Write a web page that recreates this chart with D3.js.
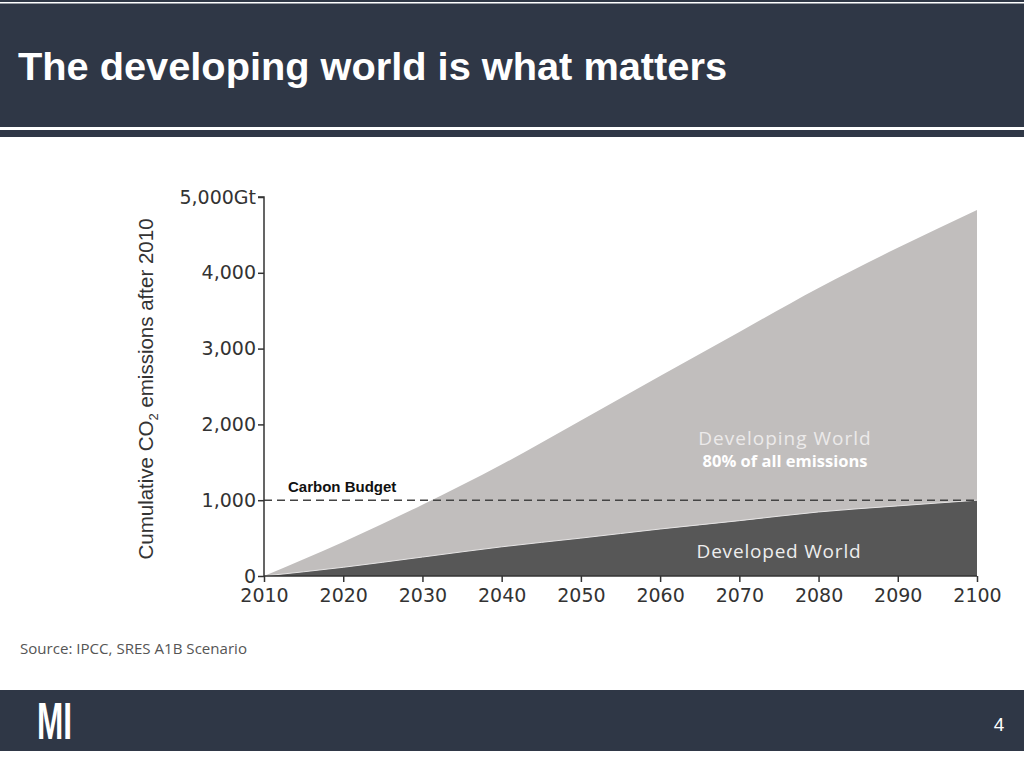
<!DOCTYPE html>
<html><head><meta charset="utf-8">
<script src="https://cdn.jsdelivr.net/npm/d3@7"></script>
<style>body{margin:0;background:#fff}svg{display:block}</style>
</head><body>
<script>
const years = [2010, 2020, 2030, 2040, 2050, 2060, 2070, 2080, 2090, 2100];
const developed = [0, 115, 250, 385, 500, 620, 730, 845, 925, 1000];
const total = [0, 450, 940, 1470, 2050, 2640, 3220, 3800, 4330, 4830];
const yTicks = [0, 1000, 2000, 3000, 4000, 5000];
const yTickLabels = ["0", "1,000", "2,000", "3,000", "4,000", "5,000Gt"];
const carbonBudget = 1000;

const W = 1024, H = 768;
const navy = "#2f3746";
const svg = d3.select("body").append("svg").attr("width", W).attr("height", H);

// header
svg.append("rect").attr("x",0).attr("y",0).attr("width",W).attr("height",137).attr("fill",navy);
svg.append("rect").attr("x",0).attr("y",2).attr("width",W).attr("height",1.5).attr("fill","#fff");
svg.append("rect").attr("x",0).attr("y",127).attr("width",W).attr("height",3).attr("fill","#fff");
svg.append("text").attr("x",18).attr("y",80)
  .attr("font-family","Liberation Sans, Arial, sans-serif").attr("font-weight","bold")
  .attr("font-size",39).attr("fill","#fff")
  .attr("textLength",709).attr("lengthAdjust","spacingAndGlyphs")
  .text("The developing world is what matters");

// footer
svg.append("rect").attr("x",0).attr("y",690).attr("width",W).attr("height",61).attr("fill",navy);
svg.append("text").attr("x",37).attr("y",739)
  .attr("font-family","Liberation Sans Narrow, Liberation Sans, Arial, sans-serif").attr("font-weight","bold")
  .attr("font-size",51).attr("fill","#fff")
  .attr("textLength",35).attr("lengthAdjust","spacingAndGlyphs").text("MI");
svg.append("text").attr("x",999).attr("y",731).attr("text-anchor","middle")
  .attr("font-family","Liberation Sans, Arial, sans-serif").attr("font-size",19).attr("fill","#fff").text("4");

// source
svg.append("text").attr("x",20).attr("y",654)
  .attr("font-family","Open Sans, sans-serif").attr("font-size",15).attr("fill","#555")
  .attr("textLength",227).attr("lengthAdjust","spacingAndGlyphs")
  .text("Source: IPCC, SRES A1B Scenario");

// chart
const x = d3.scaleLinear().domain([2010, 2100]).range([264, 977]);
const y = d3.scaleLinear().domain([0, 5000]).range([576, 197]);

const data = years.map((yr, i) => ({yr, dev: developed[i], tot: total[i]}));
const curve = d3.curveMonotoneX;

svg.append("path").datum(data).attr("fill","#c1bebd")
  .attr("d", d3.area().curve(curve).x(d=>x(d.yr)).y0(d=>y(d.dev)).y1(d=>y(d.tot)));
svg.append("path").datum(data).attr("fill","#575757")
  .attr("d", d3.area().curve(curve).x(d=>x(d.yr)).y0(y(0)).y1(d=>y(d.dev)));
svg.append("path").datum(data).attr("fill","none").attr("stroke","#e6e4e4").attr("stroke-width",1)
  .attr("d", d3.line().curve(curve).x(d=>x(d.yr)).y(d=>y(d.dev)));

// carbon budget line
svg.append("line").attr("x1",x(2010)).attr("x2",x(2100)).attr("y1",y(carbonBudget)).attr("y2",y(carbonBudget))
  .attr("stroke","#444").attr("stroke-width",1.5).attr("stroke-dasharray","8,5");
svg.append("text").attr("x",288).attr("y",492)
  .attr("font-family","Liberation Sans, Arial, sans-serif").attr("font-weight","bold")
  .attr("font-size",15).attr("fill","#111").text("Carbon Budget");

// axes
const axFont = "DejaVu Sans, Verdana, sans-serif";
const yAxis = svg.append("g").attr("transform",`translate(${x(2010)},0)`)
  .call(d3.axisLeft(y).tickValues(yTicks).tickFormat((d,i)=>yTickLabels[i]).tickSize(6).tickPadding(2));
const xAxis = svg.append("g").attr("transform",`translate(0,${y(0)})`)
  .call(d3.axisBottom(x).tickValues(years).tickFormat(d3.format("d")).tickSize(6).tickPadding(7));
[yAxis, xAxis].forEach(g => {
  g.select(".domain").attr("stroke","#333").attr("stroke-width",1.5);
  g.selectAll(".tick line").attr("stroke","#333").attr("stroke-width",1.5);
  g.selectAll(".tick text").attr("font-family",axFont).attr("font-size",19).attr("fill","#333");
});
yAxis.select(".domain").attr("d", `M-6,${y(5000)}H0V${y(0)}`);
xAxis.select(".domain").attr("d", `M${x(2010)},0H${x(2100)}`);

// y title
const yt = svg.append("text").attr("transform","translate(153,389) rotate(-90)").attr("text-anchor","middle")
  .attr("font-family","Liberation Sans, Arial, sans-serif").attr("font-size",20.5).attr("fill","#333");
yt.append("tspan").text("Cumulative CO");
yt.append("tspan").attr("font-size",13).attr("dy",5).text("2");
yt.append("tspan").attr("dy",-5).text(" emissions after 2010");

// labels
svg.append("text").attr("x",785).attr("y",445).attr("text-anchor","middle")
  .attr("font-family","Open Sans, sans-serif").attr("font-size",19).attr("fill","#eceaea")
  .attr("letter-spacing",1).text("Developing World");
svg.append("text").attr("x",785).attr("y",467).attr("text-anchor","middle")
  .attr("font-family","Open Sans, sans-serif").attr("font-weight","bold").attr("font-size",16.5).attr("fill","#fff")
  .text("80% of all emissions");
svg.append("text").attr("x",779).attr("y",558).attr("text-anchor","middle")
  .attr("font-family","Open Sans, sans-serif").attr("font-size",19).attr("fill","#eeeeee")
  .attr("letter-spacing",0.8).text("Developed World");
</script>
</body></html>
